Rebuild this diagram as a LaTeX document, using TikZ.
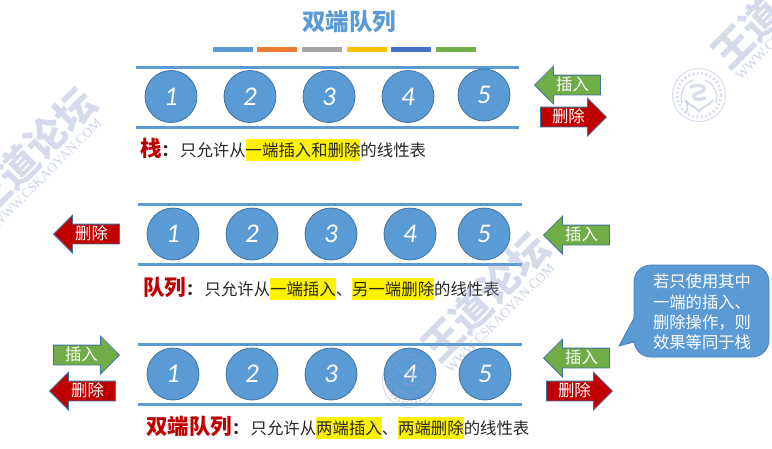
\documentclass[tikz,border=0pt]{standalone}
\usepackage{fontspec}
\setmainfont{Noto Sans CJK SC}
\newfontfamily\ballfont{Carlito}
\newfontfamily\urlfont{Liberation Serif}
\usetikzlibrary{shapes.arrows}
\definecolor{oblue}{HTML}{5B9BD5}
\definecolor{oorange}{HTML}{ED7D31}
\definecolor{ogray}{HTML}{A5A5A5}
\definecolor{ogold}{HTML}{FFC000}
\definecolor{odeep}{HTML}{4472C4}
\definecolor{ogreen}{HTML}{70AD47}
\definecolor{ored}{HTML}{C00000}
\definecolor{oedge}{HTML}{41719C}
\definecolor{wmblue}{HTML}{8C9CC8}
\newcommand{\hl}[1]{{\setlength{\fboxsep}{0pt}\colorbox{yellow}{\rule[-4.5pt]{0pt}{22pt}#1}}}
\newcommand{\redword}[1]{\textcolor{ored}{\fontsize{21.5}{21.5}\selectfont\bfseries #1}{\bfseries ：}\hspace{2pt}}
\newcommand{\wmseal}[2]{
	\begin{scope}[shift={(#1,#2)}, draw=wmblue, opacity=0.34]
		\draw [line width=1pt] (0,0) circle (26.5);
		\draw [line width=2.6pt, dash pattern=on 2pt off 2.4pt] (0,0) circle (22);
		\draw [line width=1.6pt] (-13,6) arc (155:205:-14.5);
		\draw [line width=1.4pt] (-17,8) .. controls (-20,-2) and (-14,-12) .. (-6,-15);
		\draw [line width=1.4pt] (17,8) .. controls (20,-2) and (14,-12) .. (6,-15);
		\draw [line width=3.2pt] (-9,-8) .. controls (6,-13) and (10,-4) .. (-1,-2) .. controls (-9,0) and (-6,7) .. (7,3);
		\draw [line width=2.2pt] (-14,5) .. controls (-10,11) and (-4,11) .. (0,16) .. controls (4,11) and (10,11) .. (14,5);
	\end{scope}
}
\tikzset{
	rail/.style={line width=3pt, oblue},
	swatch/.style={minimum width=40pt, minimum height=5pt, inner sep=0pt},
	ball/.style={circle, draw=oedge, fill=oblue, line width=0.8pt, minimum size=52pt, inner sep=0pt, text=white, font=\ballfont\itshape\fontsize{27}{27}\selectfont},
	flow/.style={single arrow, draw=oedge, line width=0.8pt, text=white, minimum height=66pt, inner xsep=1pt, inner ysep=3pt, text height=12pt, text depth=1pt, single arrow head extend=9pt, single arrow head indent=0pt, font=\fontsize{16.4}{16.4}\selectfont},
	insertflow/.style={flow, fill=ogreen},
	removeflow/.style={flow, fill=ored},
	pointleft/.style={shape border rotate=180},
	linetext/.style={anchor=west, inner sep=0pt, text=black!85, font=\fontsize{16.4}{18}\selectfont},
	wmtext/.style={rotate=45, text=wmblue, opacity=0.36, font=\bfseries\fontsize{40}{40}\selectfont},
	wmurl/.style={rotate=45, text=wmblue, opacity=0.45, font=\urlfont\fontsize{13.5}{14}\selectfont},
}
\begin{document}
\begin{tikzpicture}[x=1pt, y=-1pt]
	\useasboundingbox (0,0) rectangle (772,448);
	\node (title) at (349,22) [text=oblue, font=\bfseries\fontsize{23.5}{23.5}\selectfont] {双端队列};
	\node (swatcha) at (233,49.5) [swatch, fill=oblue] {};
	\node (swatchb) at (277,49.5) [swatch, fill=oorange] {};
	\node (swatchc) at (322,49.5) [swatch, fill=ogray] {};
	\node (swatchd) at (367,49.5) [swatch, fill=ogold] {};
	\node (swatche) at (411,49.5) [swatch, fill=odeep] {};
	\node (swatchf) at (456,49.5) [swatch, fill=ogreen] {};

	\draw [rail] (136,67) -- (519,67);
	\draw [rail] (136,127) -- (519,127);
	\node (stacka) at (171,96.5) [ball] {1};
	\node (stackb) at (250,96.5) [ball] {2};
	\node (stackc) at (329,96.5) [ball] {3};
	\node (stackd) at (408,96.5) [ball] {4};
	\node (stacke) at (484,95) [ball] {5};
	\node (stackin) at (534,85) [insertflow, pointleft, anchor=tip] {插入};
	\node (stackout) at (607,117) [removeflow, anchor=tip] {删除};
	\node (stacktext) at (140,150) [linetext] {\redword{栈}只允许从\hl{一端插入和删除}的线性表};

	\draw [rail] (138,204) -- (522,204);
	\draw [rail] (138,264) -- (522,264);
	\node (queuea) at (173,234) [ball] {1};
	\node (queueb) at (252,234) [ball] {2};
	\node (queuec) at (331,234) [ball] {3};
	\node (queued) at (410,234) [ball] {4};
	\node (queuee) at (484,234) [ball] {5};
	\node (queueout) at (53,234) [removeflow, pointleft, anchor=tip] {删除};
	\node (queuein) at (543,235) [insertflow, pointleft, anchor=tip] {插入};
	\node (queuetext) at (143,289) [linetext] {\redword{队列}只允许从\hl{一端插入}、\hl{另一端删除}的线性表};

	\draw [rail] (138,344) -- (522,344);
	\draw [rail] (138,404) -- (522,404);
	\node (dequea) at (173,374) [ball] {1};
	\node (dequeb) at (252,374) [ball] {2};
	\node (dequec) at (331,374) [ball] {3};
	\node (dequed) at (410,374) [ball] {4};
	\node (dequee) at (485,374) [ball] {5};
	\node (dequeinl) at (120,355) [insertflow, anchor=tip] {插入};
	\node (dequeoutl) at (49,391) [removeflow, pointleft, anchor=tip] {删除};
	\node (dequeinr) at (543,358) [insertflow, pointleft, anchor=tip] {插入};
	\node (dequeoutr) at (613,391) [removeflow, anchor=tip] {删除};
	\node (dequetext) at (146,428) [linetext] {\redword{双端队列}只允许从\hl{两端插入}、\hl{两端删除}的线性表};

	\draw [fill=oblue, draw=odeep!80!oblue, line width=0.8pt] (634,300) [sharp corners] -- (634,318) -- (619,346) -- (634,342) [rounded corners=17pt] -- (634,357) -- (769,357) -- (769,265) -- (634,265) -- cycle;
	\node (bubbletext) at (702,312) [align=center, text=white, inner sep=0pt, font=\fontsize{16.3}{20.3}\selectfont] {若只使用其中\\一端的插入、\\删除操作，则\\效果等同于栈};

	\node (wmleft) at (32,152) [wmtext] {王道论坛};
	\node (urlleft) at (47,173) [wmurl] {WWW.CSKAOYAN.COM};
	\node (wmmid) at (485,297) [wmtext] {王道论坛};
	\node (urlmid) at (500,318) [wmurl] {WWW.CSKAOYAN.COM};
	\node (wmright) at (775,4) [wmtext] {王道论坛};
	\node (urlright) at (790,25) [wmurl] {WWW.CSKAOYAN.COM};
	\wmseal{699}{95}
	\wmseal{409}{381}
\end{tikzpicture}
\end{document}
